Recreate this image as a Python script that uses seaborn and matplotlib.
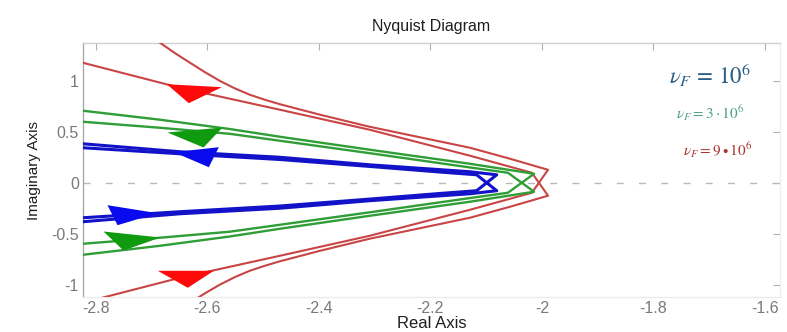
import numpy as np
import pandas as pd
import matplotlib
matplotlib.use("Agg")
import matplotlib.pyplot as plt
import seaborn as sns

# ---- Nyquist branches (upper half-plane; lower half is the mirror image) ----
# Each loop: outer branch runs in to its tip, then crosses the real axis
# and returns along the mirrored inner branch.
blue_outer_x = [-2.850, -2.823, -2.649, -2.470, -2.309, -2.129, -2.081]
blue_outer_y = [0.395, 0.382, 0.304, 0.250, 0.176, 0.108, 0.078]
blue_inner_x = [-2.850, -2.823, -2.649, -2.470, -2.309, -2.183, -2.117]
blue_inner_y = [0.355, 0.343, 0.284, 0.228, 0.160, 0.105, 0.078]

green_outer_x = [-2.850, -2.823, -2.685, -2.560, -2.470, -2.309, -2.129, -2.014]
green_outer_y = [0.720, 0.706, 0.618, 0.527, 0.451, 0.324, 0.186, 0.088]
green_inner_x = [-2.850, -2.823, -2.685, -2.560, -2.470, -2.309, -2.129, -2.061]
green_inner_y = [0.610, 0.598, 0.539, 0.480, 0.412, 0.290, 0.150, 0.098]

red_outer_x = [-2.712, -2.685, -2.658, -2.631, -2.604, -2.578, -2.551, -2.524,
               -2.497, -2.470, -2.398, -2.309, -2.219, -2.129, -2.057, -1.989]
red_outer_y = [1.480, 1.373, 1.270, 1.176, 1.083, 1.000, 0.926, 0.863,
               0.814, 0.770, 0.667, 0.549, 0.446, 0.343, 0.235, 0.127]
red_inner_x = [-2.850, -2.823, -2.649, -2.470, -2.309, -2.129, -2.018]
red_inner_y = [1.210, 1.176, 0.931, 0.716, 0.520, 0.265, 0.098]

# direction arrows (centre positions)
blue_arrow_x = [-2.614, -2.744]
blue_arrow_y = [0.272, -0.307]
green_arrow_x = [-2.618, -2.741]
green_arrow_y = [0.468, -0.552]
red_arrow_x = [-2.627, -2.639]
red_arrow_y = [0.899, -0.919]

x_ticks = [-2.8, -2.6, -2.4, -2.2, -2.0, -1.8, -1.6]
x_tick_labels = ["-2.8", "-2.6", "-2.4", "-2.2", "-2", "-1.8", "-1.6"]
y_ticks = [-1, -0.5, 0, 0.5, 1]
y_tick_labels = ["-1", "-0.5", "0", "0.5", "1"]

legend_texts = [r"$\nu_F\,=\,10^6$", r"$\nu_F = 3\cdot 10^6$", r"$\nu_F = 9\bullet 10^6$"]


def build_loops(ox, oy, ix, iy, name):
    ox, oy, ix, iy = map(np.asarray, (ox, oy, ix, iy))
    x = np.concatenate([ox, ix[::-1]])
    y = np.concatenate([oy, -iy[::-1]])
    rows = []
    for k, sgn in enumerate((1, -1)):
        rows.append(pd.DataFrame({"re": x, "im": sgn * y,
                                  "loop": f"{name}{k}", "order": np.arange(len(x))}))
    return pd.concat(rows)


sns.set_theme(style="white")
plt.rcParams["font.family"] = ["Liberation Sans", "DejaVu Sans"]
plt.rcParams["mathtext.fontset"] = "stix"
plt.rcParams["axes.unicode_minus"] = False

fig = plt.figure(figsize=(7.87, 3.32), dpi=100)
ax = fig.add_axes([83 / 787, 1 - 297 / 332, 697 / 787, 254 / 332])

ax.axhline(0, color="#b9b9b9", lw=1.0, dashes=(5, 11), zorder=1)

series = [
    (red_outer_x, red_outer_y, red_inner_x, red_inner_y, "red", "#c94545", 1.5),
    (green_outer_x, green_outer_y, green_inner_x, green_inner_y, "green", "#2f9e36", 1.7),
    (blue_outer_x, blue_outer_y, blue_inner_x, blue_inner_y, "blue", "#1212c8", 2.2),
]
for ox, oy, ix, iy, name, col, lw in series:
    df = build_loops(ox, oy, ix, iy, name)
    for loop, d in df.groupby("loop"):
        sns.lineplot(data=d, x="re", y="im", sort=False, estimator=None,
                     color=col, lw=lw, ax=ax, zorder=3)

# arrow heads as filled triangular markers (offsets in pixels, y up)
arrow_shapes = {
    "red": [[(-25.7, 7.3), (29.3, 4.3), (-3.7, -11.7)],
            [(-28.7, 5.7), (27.3, 5.7), (1.3, -11.3)]],
    "green": [[(-30, 3), (25, 8), (6, -12)],
              [(-26, 8), (31, 2), (-6, -11)]],
    "blue": [[(-26.7, 3.3), (18.3, 8.3), (8.3, -11.7)],
             [(-20, 9.3), (30, 1.3), (-10, -10.7)]],
}
arrow_pos = {
    "red": (red_arrow_x, red_arrow_y, "#ff0a0a"),
    "green": (green_arrow_x, green_arrow_y, "#109a10"),
    "blue": (blue_arrow_x, blue_arrow_y, "#0a0aee"),
}
for name, (axs, ays, col) in arrow_pos.items():
    for (xa, ya), verts in zip(zip(axs, ays), arrow_shapes[name]):
        m = max(abs(v) for p in verts for v in p)
        ms = 2 * m * 0.72
        ax.plot([xa], [ya], marker=verts + [verts[0]], ms=ms, color=col,
                mec=col, mew=0, linestyle="none", zorder=4)

ax.set_xlim(-2.823, -1.573)
ax.set_ylim(-1.12, 1.37)
ax.set_xticks(x_ticks)
ax.set_xticklabels(x_tick_labels)
ax.set_yticks(y_ticks)
ax.set_yticklabels(y_tick_labels)
ax.tick_params(direction="in", length=5, width=0.8, color="#b0b0b0",
               labelcolor="#7a7a7a", labelsize=11.5, top=True, right=True)
ax.tick_params(axis="y", pad=3)
ax.tick_params(axis="x", pad=3)

for side, c in {"left": "#a9a9a9", "top": "#cfcfcf",
                "bottom": "#ececec", "right": "#efefef"}.items():
    ax.spines[side].set_color(c)
    ax.spines[side].set_linewidth(1.0)

ax.set_xlabel("Real Axis", fontsize=12, color="#1e1e1e", labelpad=0)
ax.set_ylabel("Imaginary Axis", fontsize=11, color="#1e1e1e", labelpad=7)
ax.set_title("Nyquist Diagram", fontsize=11.5, color="#1e1e1e", pad=9)

ax.text(0.90, 0.874, legend_texts[0], transform=ax.transAxes, ha="center",
        va="center", fontsize=16.5, color="#2b5f85", fontweight="bold")
ax.text(0.90, 0.724, legend_texts[1], transform=ax.transAxes, ha="center",
        va="center", fontsize=11, color="#4aa088")
ax.text(0.91, 0.579, legend_texts[2], transform=ax.transAxes, ha="center",
        va="center", fontsize=11, color="#a8352e")

fig.savefig("out.png", dpi=100)
